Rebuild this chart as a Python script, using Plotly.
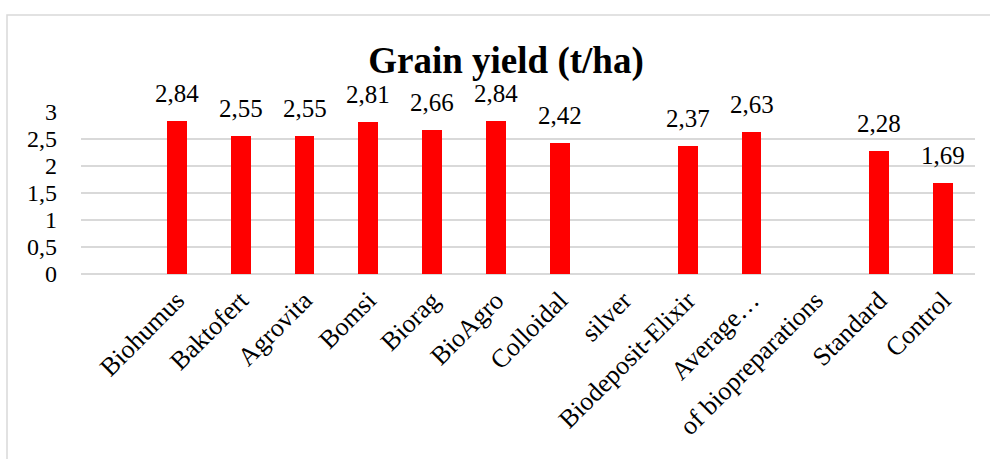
import plotly.graph_objects as go

categories = ["", "Biohumus", "Baktofert", "Agrovita", "Bomsi", "Biorag", "BioAgro",
              "Colloidal", "silver", "Biodeposit-Elixir", "Average…",
              "of biopreparations", "Standard", "Control"]
yields = [None, 2.84, 2.55, 2.55, 2.81, 2.66, 2.84, 2.42, None, 2.37, 2.63, None, 2.28, 1.69]
y_ticks = [0, 0.5, 1, 1.5, 2, 2.5, 3]
y_tick_labels = ["0", "0,5", "1", "1,5", "2", "2,5", "3"]

FONT = "Liberation Serif, Times New Roman, serif"

xpos = list(range(len(categories)))

fig = go.Figure()
fig.add_trace(go.Bar(
    x=xpos, y=yields, width=0.31,
    marker=dict(color="#ff0000", line=dict(width=0)),
    hoverinfo="skip",
))

for xp, v in zip(xpos, yields):
    if v is None:
        continue
    fig.add_annotation(
        x=xp, y=v, text=f"{v:.2f}".replace(".", ","), showarrow=False,
        xanchor="center", yanchor="bottom", yshift=12,
        font=dict(family=FONT, size=25, color="#000000"),
    )

fig.update_layout(
    width=990, height=459,
    margin=dict(l=81, r=15, t=112, b=185),
    paper_bgcolor="white", plot_bgcolor="white",
    showlegend=False,
    bargap=0,
    title=dict(text="<b>Grain yield (t/ha)</b>", x=506/990, xanchor="center",
               y=1 - 60/459, yanchor="middle",
               font=dict(family=FONT, size=37, color="#000000")),
    xaxis=dict(
        tickmode="array", tickvals=xpos, ticktext=categories,
        range=[-0.5, len(categories) - 0.5], tickangle=-45,
        tickfont=dict(family=FONT, size=26, color="#000000"),
        showgrid=False, ticks="", showline=False, zeroline=False,
        automargin=False, ticklabelstandoff=5,
    ),
    yaxis=dict(
        range=[0, 3], tickmode="array", tickvals=y_ticks, ticktext=y_tick_labels,
        tickfont=dict(family=FONT, size=24, color="#000000"),
        showgrid=True, gridcolor="#d9d9d9", gridwidth=1.5,
        zeroline=True, zerolinecolor="#d9d9d9", zerolinewidth=1.5,
        ticks="", ticklen=0, showline=False,
        automargin=False, ticklabelstandoff=23,
    ),
    shapes=[dict(type="rect", xref="paper", yref="paper",
                 x0=(7 - 81) / 894, x1=(1000 - 81) / 894,
                 y0=(274 - 470) / 162, y1=(274 - 15) / 162,
                 line=dict(color="#d9d9d9", width=1.5), fillcolor="rgba(0,0,0,0)",
                 layer="below")],
)

fig.write_html("out.html", config={"displayModeBar": False},
               post_script="document.body.style.margin='0';document.body.style.padding='0';")
